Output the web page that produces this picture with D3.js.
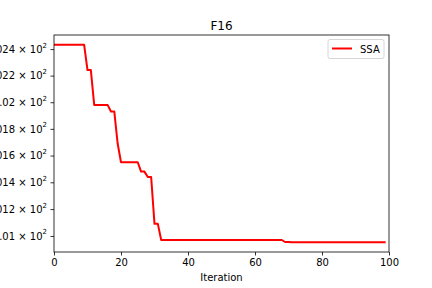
<!DOCTYPE html>
<html>
<head>
<meta charset="utf-8">
<script src="https://cdn.jsdelivr.net/npm/d3@7"></script>
<style>
  body { margin: 0; background: #fff; }
  svg { font-family: "DejaVu Sans", sans-serif; }
</style>
</head>
<body>
<svg id="chart" width="432" height="288"></svg>
<script>
// best fitness per iteration
var fitness = [
  102.432, 102.432, 102.432, 102.432, 102.432, 102.432, 102.432, 102.432, 102.432, 102.432,
  102.242, 102.242, 101.98, 101.98, 101.98, 101.98, 101.98, 101.93, 101.93, 101.69,
  101.55, 101.55, 101.55, 101.55, 101.55, 101.55, 101.48, 101.48, 101.44, 101.44,
  101.09, 101.09, 100.97, 100.97, 100.97, 100.97, 100.97, 100.97, 100.97, 100.97,
  100.97, 100.97, 100.97, 100.97, 100.97, 100.97, 100.97, 100.97, 100.97, 100.97,
  100.97, 100.97, 100.97, 100.97, 100.97, 100.97, 100.97, 100.97, 100.97, 100.97,
  100.97, 100.97, 100.97, 100.97, 100.97, 100.97, 100.97, 100.97, 100.97, 100.955,
  100.955, 100.954, 100.954, 100.954, 100.954, 100.954, 100.954, 100.954, 100.954, 100.954,
  100.954, 100.954, 100.954, 100.954, 100.954, 100.954, 100.954, 100.954, 100.954, 100.954,
  100.954, 100.954, 100.954, 100.954, 100.954, 100.954, 100.954, 100.954, 100.954, 100.954
];
var xTicks = [0, 20, 40, 60, 80, 100];
var yTicks = [102.4, 102.2, 102.0, 101.8, 101.6, 101.4, 101.2, 101.0];
var yTickLabels = ["1.024", "1.022", "1.02", "1.018", "1.016", "1.014", "1.012", "1.01"];
var seriesName = "SSA";
var title = "F16";
var xLabel = "Iteration";

var svg = d3.select("#chart");
var mLeft = 54, mRight = 389, mTop = 35, mBottom = 252;

var x = d3.scaleLinear().domain([0, 100]).range([mLeft, mRight]);

// matplotlib-like 5% margin in log space
var lmin = Math.log(d3.min(fitness)), lmax = Math.log(d3.max(fitness));
var pad = (lmax - lmin) * 0.05;
var y = d3.scaleLog().domain([Math.exp(lmin - pad), Math.exp(lmax + pad)]).range([mBottom, mTop]);

// line
var line = d3.line()
    .x(function(d, i){ return x(i); })
    .y(function(d){ return y(d); });

svg.append("path")
    .datum(fitness)
    .attr("d", line)
    .attr("fill", "none")
    .attr("stroke", "#ff0000")
    .attr("stroke-width", 2)
    .attr("stroke-linejoin", "round");

// axes
var xAxis = svg.append("g")
    .attr("transform", "translate(0," + mBottom + ")")
    .call(d3.axisBottom(x).tickValues(xTicks).tickSize(3.5).tickPadding(3));
var yAxis = svg.append("g")
    .attr("transform", "translate(" + mLeft + ",0)")
    .call(d3.axisLeft(y).tickValues(yTicks).tickSize(3.5).tickPadding(3.5).tickFormat(function(){ return ""; }));

[xAxis, yAxis].forEach(function(g){
    g.select(".domain").remove();
    g.selectAll("line").attr("stroke", "#000").attr("stroke-width", 0.8);
    g.selectAll("text").attr("font-size", 10).attr("fill", "#000").attr("font-family", "DejaVu Sans");
});

// y tick labels with superscript exponent
yAxis.selectAll(".tick").each(function(d, i){
    var t = d3.select(this).select("text");
    t.text(null).attr("dy", "0.32em");
    t.append("tspan").text(yTickLabels[i] + " \u00d7 10");
    t.append("tspan").attr("font-size", 7).attr("dy", "-0.75em").text("2");
});

// frame
svg.append("rect")
    .attr("x", mLeft).attr("y", mTop)
    .attr("width", mRight - mLeft).attr("height", mBottom - mTop)
    .attr("fill", "none").attr("stroke", "#000").attr("stroke-width", 0.8);

// title and label
svg.append("text")
    .attr("x", (mLeft + mRight) / 2).attr("y", 30)
    .attr("text-anchor", "middle").attr("font-size", 12)
    .text(title);
svg.append("text")
    .attr("x", (mLeft + mRight) / 2).attr("y", 281)
    .attr("text-anchor", "middle").attr("font-size", 10)
    .text(xLabel);

// legend
var lg = svg.append("g").attr("transform", "translate(328,39.5)");
lg.append("rect")
    .attr("width", 56).attr("height", 19).attr("rx", 2)
    .attr("fill", "#fff").attr("fill-opacity", 0.8)
    .attr("stroke", "#cccccc").attr("stroke-width", 0.8);
lg.append("line")
    .attr("x1", 4).attr("x2", 24).attr("y1", 9).attr("y2", 9)
    .attr("stroke", "#ff0000").attr("stroke-width", 2);
lg.append("text")
    .attr("x", 32).attr("y", 13).attr("font-size", 10)
    .text(seriesName);
</script>
</body>
</html>
